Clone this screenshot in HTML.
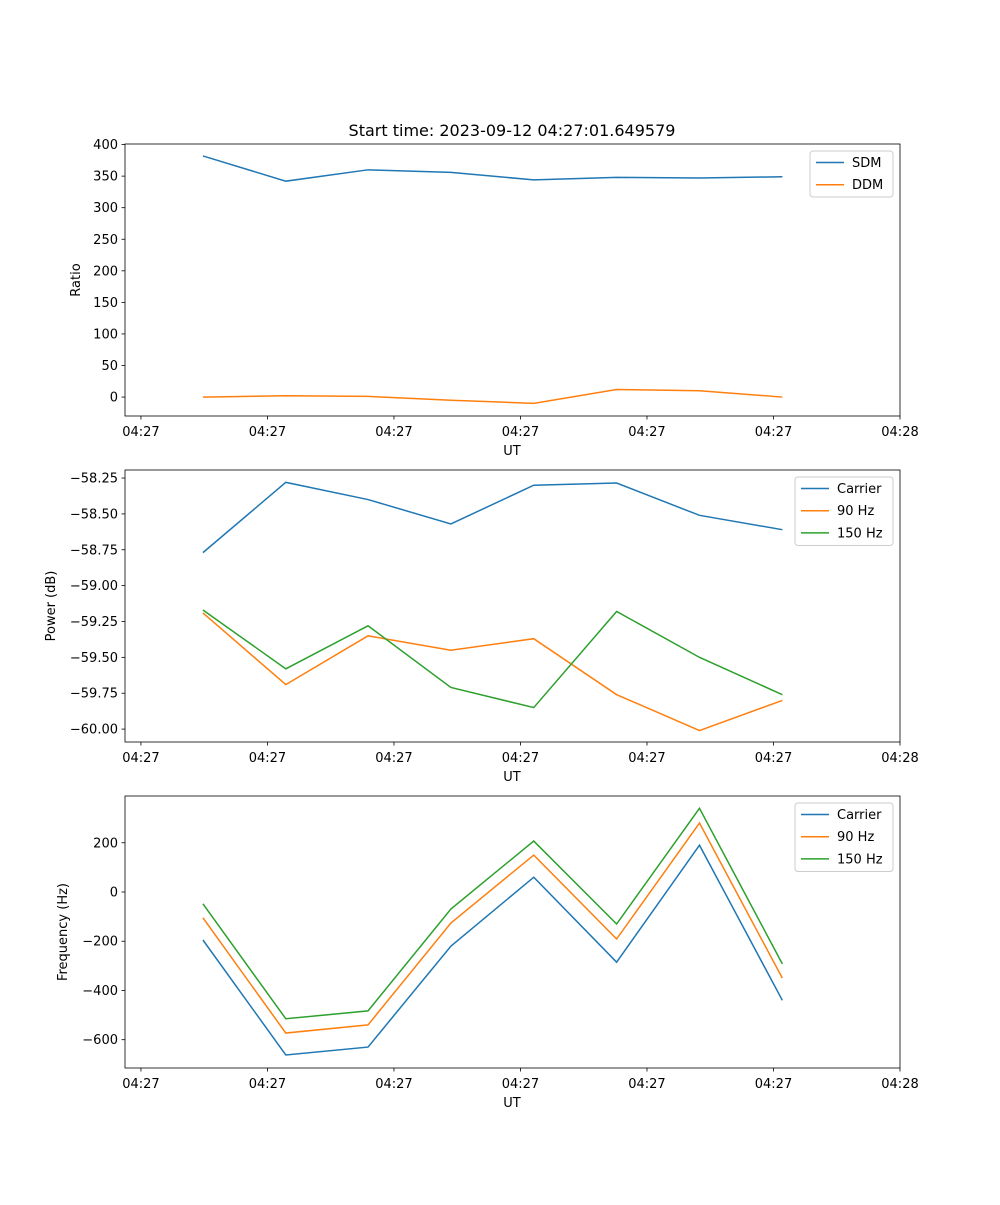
<!DOCTYPE html>
<html><head><meta charset="utf-8"><style>
body{margin:0;background:#fff}
svg text{font-family:"DejaVu Sans","Liberation Sans",sans-serif;fill:#000}
</style></head><body>
<svg id="fig" width="1000" height="1200" xmlns="http://www.w3.org/2000/svg">
<text x="512" y="136" font-size="16" text-anchor="middle">Start time: 2023-09-12 04:27:01.649579</text>
</svg>
<script>
const times = [4.9, 11.45, 17.95, 24.5, 31.05, 37.6, 44.15, 50.7];
const xTickVals = [0, 10, 20, 30, 40, 50, 60];
const xTickLabels = ["04:27","04:27","04:27","04:27","04:27","04:27","04:28"];
const sdm = [382, 342, 360, 356, 344, 348, 347, 349];
const ddm = [0, 2, 1, -5, -10, 12, 10, 0];
const powCarrier = [-58.77, -58.28, -58.40, -58.57, -58.30, -58.285, -58.51, -58.61];
const pow90 = [-59.19, -59.69, -59.35, -59.45, -59.37, -59.76, -60.01, -59.80];
const pow150 = [-59.17, -59.58, -59.28, -59.71, -59.85, -59.18, -59.50, -59.76];
const freqCarrier = [-195, -662, -630, -220, 60, -285, 190, -440];
const freq90 = [-105, -573, -540, -126, 150, -191, 280, -350];
const freq150 = [-48, -515, -483, -69, 207, -130, 340, -292];
const ticks1 = [0, 50, 100, 150, 200, 250, 300, 350, 400];
const ticks2 = [-60.00, -59.75, -59.50, -59.25, -59.00, -58.75, -58.50, -58.25];
const ticks3 = [-600, -400, -200, 0, 200];

const NS = "http://www.w3.org/2000/svg";
const svg = document.getElementById('fig');
function el(tag, attrs, parent){const e=document.createElementNS(NS,tag);for(const k in attrs)e.setAttribute(k,attrs[k]);(parent||svg).appendChild(e);return e;}
const X0=125,X1=900,XMIN=-1.26,XMAX=60;
function xs(v){return X0+(v-XMIN)/(XMAX-XMIN)*(X1-X0);}
function fmt(v,d){return (v<0?"\u2212":"")+Math.abs(v).toFixed(d);}

function panel(name, top, ymin, ymax, yticks, dec, ylabel, series, legendW){
  const bot=top+272;
  const ys=v=>bot-(v-ymin)/(ymax-ymin)*272;
  const g=el('g',{});
  
  
  series.forEach(s=>{
    const p=el('polyline',{points:times.map((t,i)=>xs(t)+','+ys(s.vals[i])).join(' '),fill:'none',stroke:s.color,'stroke-width':1.5},g);
    
    
  });
  const fr=el('rect',{x:X0,y:top,width:X1-X0,height:272,fill:'none',stroke:'#000','stroke-width':0.8},g);
  
  
  xTickVals.forEach((v,i)=>{
    const x=xs(v);
    el('line',{x1:x,x2:x,y1:bot,y2:bot+3.5,stroke:'#000','stroke-width':0.8},g);
    const t=el('text',{x:x,y:bot+20,'font-size':13,'text-anchor':'middle'},g);
    t.textContent=xTickLabels[i];
    
    
  });
  yticks.forEach(v=>{
    const y=ys(v);
    el('line',{x1:X0-3.5,x2:X0,y1:y,y2:y,stroke:'#000','stroke-width':0.8},g);
    const t=el('text',{x:X0-7,y:y+4.5,'font-size':13,'text-anchor':'end'},g);
    t.textContent=fmt(v,dec);
    
    
  });
  const xl=el('text',{x:512,y:bot+39,'font-size':13,'text-anchor':'middle'},g);
  xl.textContent='UT';
  
  
  const lx = ylabel==='Ratio'?80:(ylabel==='Power (dB)'?55:67);
  const yl=el('text',{x:lx,y:top+136,'font-size':13,'text-anchor':'middle',transform:`rotate(-90 ${lx} ${top+136})`},g);
  yl.textContent=ylabel;
  
  
  const lx0=893-legendW, ly0=top+7;
  const lg=el('g',{},g);
  
  
  el('rect',{x:lx0,y:ly0,width:legendW,height:series.length*22.5+1,fill:'#fff',stroke:'#ccc',rx:3},lg);
  series.forEach((s,i)=>{
    const y=ly0+11.5+i*22.2;
    el('line',{x1:lx0+6,x2:lx0+34,y1:y,y2:y,stroke:s.color,'stroke-width':1.5},lg);
    const t=el('text',{x:lx0+42,y:y+4.5,'font-size':13},lg);
    t.textContent=s.label;
    
    
  });
}
panel('ratio-panel',144,-30,400.9,ticks1,0,'Ratio',[
  {key:'sdm',label:'SDM',vals:sdm,color:'#1f77b4'},
  {key:'ddm',label:'DDM',vals:ddm,color:'#ff7f0e'}],83);
panel('power-panel',470,-60.09,-58.194,ticks2,2,'Power (dB)',[
  {key:'carrier',label:'Carrier',vals:powCarrier,color:'#1f77b4'},
  {key:'90hz',label:'90 Hz',vals:pow90,color:'#ff7f0e'},
  {key:'150hz',label:'150 Hz',vals:pow150,color:'#2ca02c'}],98);
panel('frequency-panel',796,-715,390,ticks3,0,'Frequency (Hz)',[
  {key:'carrier',label:'Carrier',vals:freqCarrier,color:'#1f77b4'},
  {key:'90hz',label:'90 Hz',vals:freq90,color:'#ff7f0e'},
  {key:'150hz',label:'150 Hz',vals:freq150,color:'#2ca02c'}],98);
</script>
</body></html>
